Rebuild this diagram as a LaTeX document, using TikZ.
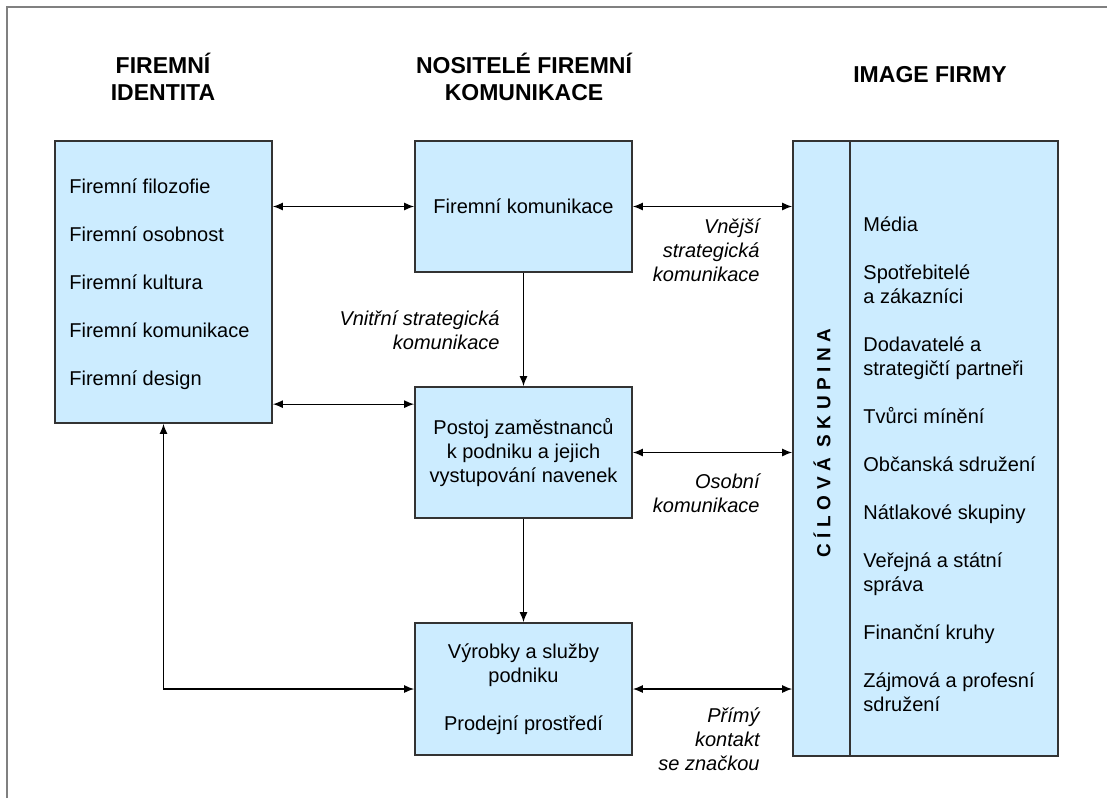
\documentclass[tikz,border=0pt]{standalone}
\usepackage{fontspec}
\setmainfont{Liberation Sans}
\newfontfamily\spacedfont[LetterSpace=29]{Liberation Sans}
\usetikzlibrary{arrows.meta,positioning,calc}
\definecolor{boxblue}{RGB}{204,236,255}
\definecolor{framegray}{RGB}{128,128,128}

\tikzset{
  box/.style={draw=black!80,line width=0.85pt,fill=boxblue,inner sep=0pt,
    font=\fontsize{10}{12}\selectfont,align=center},
  head/.style={font=\fontsize{11.5}{13.5}\selectfont\bfseries,align=center,inner sep=0pt},
  list/.style={font=\fontsize{10}{12}\selectfont,align=left,inner sep=0pt},
  note/.style={font=\fontsize{10}{12}\selectfont\itshape,align=right,inner sep=0pt},
  link/.style={line width=0.65pt,-{Latex[length=5pt,width=4pt]}},
  dlink/.style={line width=0.65pt,{Latex[length=5pt,width=4pt]}-{Latex[length=5pt,width=4pt]}}
}

\begin{document}
\begin{tikzpicture}[x=0.5pt,y=-0.5pt]
\useasboundingbox (0,0) rectangle (1107,798);
\draw[framegray,line width=1pt] (7,798) -- (7,7) -- (1107,7);

% column headings (base = last line)
\node[head,anchor=base] (hident) at (163,100) {FIREMNÍ\\IDENTITA};
\node[head,anchor=base] (hnosit) at (524,100) {NOSITELÉ FIREMNÍ\\KOMUNIKACE};
\node[head,anchor=base] (himage) at (930,82) {IMAGE FIRMY};

% boxes
\node[box,minimum width=108.5pt,minimum height=141pt] (ident) at (163.5,282) {};
\node[list,anchor=base west] (identlist) at (69,385)
  {Firemní filozofie\\[12pt]Firemní osobnost\\[12pt]Firemní kultura\\[12pt]Firemní komunikace\\[12pt]Firemní design};

\node[box,minimum width=108.5pt,minimum height=65.5pt] (komun) at (523.5,206.5) {Firemní komunikace};
\node[box,minimum width=108.5pt,minimum height=65.5pt] (postoj) at (523.5,452.5)
  {Postoj zaměstnanců\\k podniku a jejich\\vystupování navenek};
\node[box,minimum width=108.5pt,minimum height=66pt] (vyrob) at (523.5,689)
  {Výrobky a služby\\podniku\\[12pt]Prodejní prostředí};

\node[box,minimum width=28.5pt,minimum height=307.5pt] (strip) at (821.5,448.5) {};
\node[box,minimum width=104pt,minimum height=307.5pt] (group) at (954,448.5) {};
\node[rotate=90,font=\spacedfont\fontsize{9.5}{11}\selectfont\bfseries] (cil) at (822,443) {CÍLOVÁ SKUPINA};
\node[list,anchor=base west] (grouplist) at (863,711)
  {Média\\[12pt]Spotřebitelé\\a zákazníci\\[12pt]Dodavatelé a\\strategičtí partneři\\[12pt]Tvůrci mínění\\[12pt]Občanská sdružení\\[12pt]Nátlakové skupiny\\[12pt]Veřejná a státní\\správa\\[12pt]Finanční kruhy\\[12pt]Zájmová a profesní\\sdružení};

% connectors
\draw[dlink] (ident.east |- komun.west) -- (komun.west);
\draw[dlink] (komun.east) -- (strip.west |- komun.east);
\coordinate (pin) at ([yshift=-9pt]postoj.north west);
\draw[dlink] (ident.east |- pin) -- (pin);
\draw[dlink] (postoj.east) -- (strip.west |- postoj.east);
\draw[dlink] (vyrob.east) -- (strip.west |- vyrob.east);
\draw[link] (komun) -- (postoj);
\draw[link] (postoj) -- (vyrob);
\draw[dlink] (ident.south) |- (vyrob.west);

% labels
\node[note,anchor=base east] (vnejsi) at (760,281) {Vnější\\strategická\\komunikace};
\node[note,anchor=base east] (vnitrni) at (500,349) {Vnitřní strategická\\komunikace};
\node[note,anchor=base east] (osobni) at (760,512) {Osobní\\komunikace};
\node[note,anchor=base east] (primy) at (760,770) {Přímý\\kontakt\\se značkou};
\end{tikzpicture}
\end{document}
